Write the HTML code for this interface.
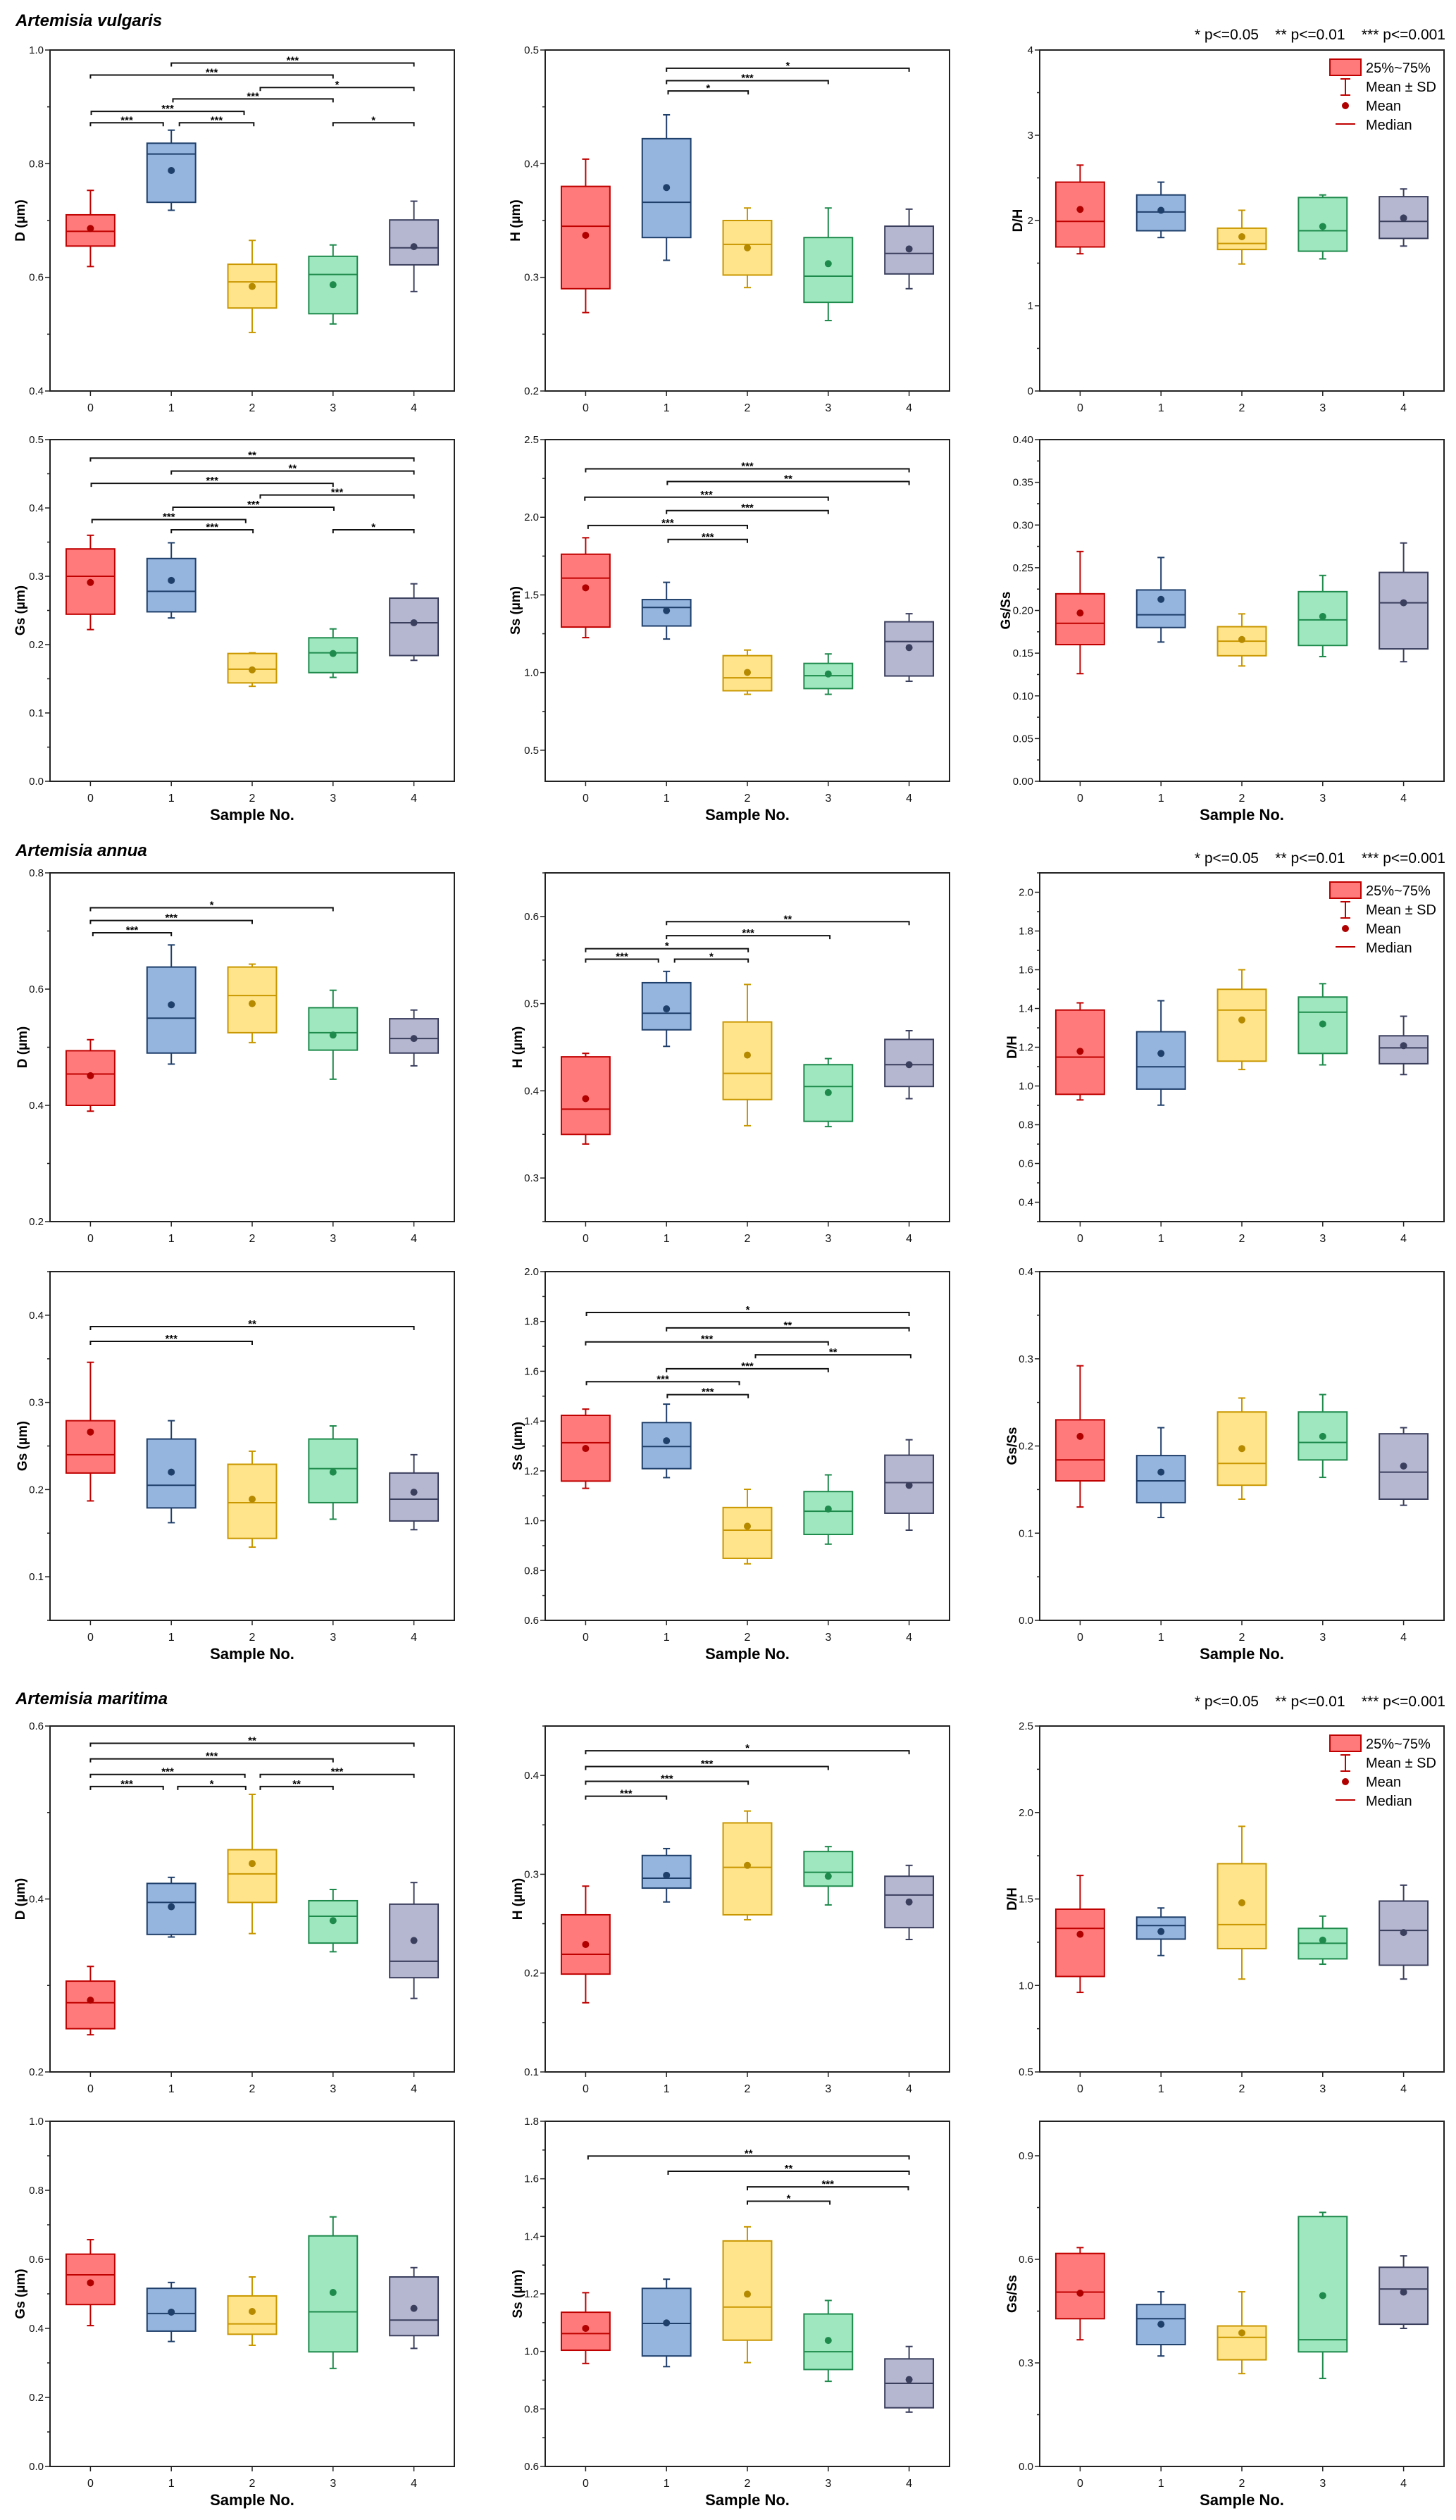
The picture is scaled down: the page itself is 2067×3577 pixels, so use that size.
<!DOCTYPE html>
<html><head><meta charset="utf-8"><title>Artemisia pollen morphometrics</title>
<style>
html,body{margin:0;padding:0;background:#fff;}
svg{display:block;font-family:"Liberation Sans",Arial,sans-serif;}
</style></head>
<body>
<svg id="fig" width="2067" height="3577" viewBox="0 0 2067 3577" xmlns="http://www.w3.org/2000/svg">
<rect width="2067" height="3577" fill="#fff"/>
<text x="22" y="37" font-size="24" font-weight="bold" font-style="italic">Artemisia vulgaris</text>
<text x="22" y="1215" font-size="24" font-weight="bold" font-style="italic">Artemisia annua</text>
<text x="22" y="2419" font-size="24" font-weight="bold" font-style="italic">Artemisia maritima</text>
<text x="2052" y="56" font-size="21" text-anchor="end" xml:space="preserve">* p&lt;=0.05    ** p&lt;=0.01    *** p&lt;=0.001</text>
<text x="2052" y="1225" font-size="21" text-anchor="end" xml:space="preserve">* p&lt;=0.05    ** p&lt;=0.01    *** p&lt;=0.001</text>
<text x="2052" y="2422" font-size="21" text-anchor="end" xml:space="preserve">* p&lt;=0.05    ** p&lt;=0.01    *** p&lt;=0.001</text>
</svg>
<script>
// ---------- data (groups 0..4) ----------
var categories=[0,1,2,3,4];
// vulgaris
var vD_q1=[0.655,0.732,0.546,0.536,0.622], vD_q3=[0.710,0.836,0.623,0.637,0.701], vD_med=[0.681,0.817,0.592,0.605,0.652], vD_mean=[0.686,0.788,0.584,0.587,0.654], vD_lo=[0.619,0.718,0.503,0.518,0.575], vD_hi=[0.753,0.859,0.665,0.657,0.734];
var vD_br=[[1,4,0.977,'***'],[0,3,0.956,'***'],[2.1,4,0.934,'*'],[1.02,3,0.914,'***'],[0.01,1.9,0.892,'***'],[0,0.9,0.872,'***'],[1.1,2.02,0.872,'***'],[3,4,0.872,'*']];
var vH_q1=[0.290,0.335,0.302,0.278,0.303], vH_q3=[0.380,0.422,0.350,0.335,0.345], vH_med=[0.345,0.366,0.329,0.301,0.321], vH_mean=[0.337,0.379,0.326,0.312,0.325], vH_lo=[0.269,0.315,0.291,0.262,0.290], vH_hi=[0.404,0.443,0.361,0.361,0.360];
var vH_br=[[1,4,0.484,'*'],[1,3,0.473,'***'],[1.02,2.01,0.464,'*']];
var vDH_q1=[1.69,1.88,1.66,1.64,1.79], vDH_q3=[2.45,2.30,1.91,2.27,2.28], vDH_med=[1.99,2.10,1.73,1.88,1.99], vDH_mean=[2.13,2.12,1.81,1.93,2.03], vDH_lo=[1.61,1.80,1.49,1.55,1.70], vDH_hi=[2.65,2.45,2.12,2.30,2.37];
var vDH_br=[];
var vGs_q1=[0.2445,0.248,0.144,0.159,0.184], vGs_q3=[0.340,0.326,0.187,0.210,0.268], vGs_med=[0.300,0.278,0.164,0.188,0.232], vGs_mean=[0.291,0.294,0.163,0.187,0.232], vGs_lo=[0.222,0.239,0.139,0.152,0.177], vGs_hi=[0.360,0.349,0.188,0.223,0.289];
var vGs_br=[[0,4,0.473,'**'],[1,4,0.454,'**'],[0.01,3,0.436,'***'],[2.1,4,0.419,'***'],[1.02,3.01,0.401,'***'],[0.02,1.92,0.383,'***'],[1,2.01,0.368,'***'],[3,4,0.368,'*']];
var vSs_q1=[1.293,1.300,0.883,0.897,0.978], vSs_q3=[1.762,1.470,1.109,1.059,1.327], vSs_med=[1.608,1.419,0.966,0.980,1.200], vSs_mean=[1.546,1.399,1.001,0.991,1.161], vSs_lo=[1.225,1.216,0.860,0.860,0.944], vSs_hi=[1.868,1.581,1.145,1.120,1.379];
var vSs_br=[[0,4,2.312,'***'],[1.01,4,2.230,'**'],[-0.01,3,2.129,'***'],[1,3,2.043,'***'],[0.03,2,1.947,'***'],[1.02,2,1.857,'***']];
var vGS_q1=[0.160,0.180,0.147,0.159,0.155], vGS_q3=[0.2195,0.224,0.181,0.222,0.2445], vGS_med=[0.185,0.195,0.164,0.189,0.209], vGS_mean=[0.197,0.213,0.166,0.193,0.209], vGS_lo=[0.126,0.163,0.135,0.146,0.140], vGS_hi=[0.269,0.262,0.196,0.241,0.279];
var vGS_br=[];
// annua
var aD_q1=[0.400,0.490,0.525,0.495,0.490], aD_q3=[0.494,0.638,0.638,0.568,0.549], aD_med=[0.454,0.550,0.589,0.525,0.515], aD_mean=[0.451,0.573,0.575,0.521,0.515], aD_lo=[0.390,0.471,0.508,0.445,0.468], aD_hi=[0.513,0.676,0.643,0.598,0.564];
var aD_br=[[0,3,0.740,'*'],[0,2,0.718,'***'],[0.03,1,0.697,'***']];
var aH_q1=[0.350,0.470,0.390,0.365,0.405], aH_q3=[0.439,0.524,0.479,0.430,0.459], aH_med=[0.379,0.489,0.420,0.405,0.430], aH_mean=[0.391,0.494,0.441,0.398,0.430], aH_lo=[0.339,0.451,0.360,0.359,0.391], aH_hi=[0.443,0.537,0.522,0.437,0.469];
var aH_br=[[1,4,0.594,'**'],[1,3.02,0.578,'***'],[0,2.01,0.563,'*'],[0,0.9,0.551,'***'],[1.1,2.01,0.551,'*']];
var aDH_q1=[0.957,0.984,1.128,1.168,1.115], aDH_q3=[1.392,1.280,1.499,1.459,1.259], aDH_med=[1.149,1.099,1.392,1.381,1.197], aDH_mean=[1.179,1.168,1.341,1.320,1.208], aDH_lo=[0.928,0.901,1.085,1.109,1.059], aDH_hi=[1.429,1.440,1.600,1.528,1.360];
var aDH_br=[];
var aGs_q1=[0.219,0.179,0.144,0.185,0.164], aGs_q3=[0.279,0.258,0.229,0.258,0.219], aGs_med=[0.240,0.205,0.185,0.224,0.189], aGs_mean=[0.266,0.220,0.189,0.220,0.197], aGs_lo=[0.187,0.162,0.134,0.166,0.154], aGs_hi=[0.346,0.279,0.244,0.273,0.240];
var aGs_br=[[0,4,0.387,'**'],[0,2,0.370,'***']];
var aSs_q1=[1.159,1.209,0.849,0.945,1.030], aSs_q3=[1.423,1.394,1.053,1.117,1.263], aSs_med=[1.313,1.298,0.962,1.038,1.153], aSs_mean=[1.290,1.321,0.978,1.047,1.142], aSs_lo=[1.130,1.173,0.827,0.906,0.962], aSs_hi=[1.448,1.468,1.126,1.184,1.325];
var aSs_br=[[0.01,4,1.836,'*'],[1,4,1.774,'**'],[0,3,1.718,'***'],[2.1,4.02,1.666,'**'],[1,3,1.610,'***'],[0.01,1.9,1.558,'***'],[1.01,2.01,1.506,'***']];
var aGS_q1=[0.160,0.135,0.155,0.184,0.139], aGS_q3=[0.230,0.189,0.239,0.239,0.214], aGS_med=[0.184,0.160,0.180,0.204,0.170], aGS_mean=[0.211,0.170,0.197,0.211,0.177], aGS_lo=[0.130,0.118,0.139,0.164,0.132], aGS_hi=[0.292,0.221,0.255,0.259,0.221];
var aGS_br=[];
// maritima
var mD_q1=[0.250,0.359,0.396,0.349,0.309], mD_q3=[0.305,0.418,0.457,0.398,0.394], mD_med=[0.280,0.396,0.429,0.380,0.328], mD_mean=[0.283,0.391,0.441,0.375,0.352], mD_lo=[0.243,0.356,0.360,0.339,0.285], mD_hi=[0.322,0.425,0.521,0.411,0.419];
var mD_br=[[0,4,0.580,'**'],[0,3,0.562,'***'],[0,1.91,0.544,'***'],[2.1,4,0.544,'***'],[0,0.9,0.530,'***'],[1.08,1.92,0.530,'*'],[2.1,3,0.530,'**']];
var mH_q1=[0.199,0.286,0.259,0.288,0.246], mH_q3=[0.259,0.319,0.352,0.323,0.298], mH_med=[0.219,0.296,0.307,0.302,0.279], mH_mean=[0.229,0.299,0.309,0.298,0.272], mH_lo=[0.170,0.272,0.254,0.269,0.234], mH_hi=[0.288,0.326,0.364,0.328,0.309];
var mH_br=[[0,4,0.425,'*'],[0,3,0.409,'***'],[0,2.01,0.394,'***'],[0,1,0.379,'***']];
var mDH_q1=[1.052,1.268,1.213,1.154,1.117], mDH_q3=[1.441,1.395,1.704,1.330,1.488], mDH_med=[1.330,1.346,1.352,1.244,1.318], mDH_mean=[1.296,1.312,1.478,1.262,1.306], mDH_lo=[0.960,1.173,1.037,1.123,1.037], mDH_hi=[1.636,1.448,1.920,1.401,1.580];
var mDH_br=[];
var mGs_q1=[0.469,0.392,0.383,0.332,0.379], mGs_q3=[0.615,0.516,0.494,0.668,0.549], mGs_med=[0.555,0.443,0.413,0.448,0.424], mGs_mean=[0.532,0.447,0.449,0.504,0.458], mGs_lo=[0.408,0.362,0.351,0.284,0.342], mGs_hi=[0.657,0.533,0.549,0.723,0.576];
var mGs_br=[];
var mSs_q1=[1.004,0.984,1.039,0.937,0.804], mSs_q3=[1.136,1.219,1.384,1.130,0.974], mSs_med=[1.062,1.097,1.154,0.999,0.889], mSs_mean=[1.080,1.099,1.199,1.038,0.902], mSs_lo=[0.958,0.947,0.961,0.896,0.789], mSs_hi=[1.204,1.251,1.433,1.177,1.017];
var mSs_br=[[0.03,4,1.679,'**'],[1.02,4,1.626,'**'],[2,3.99,1.572,'***'],[2,3.02,1.522,'*']];
var mGS_q1=[0.428,0.353,0.309,0.332,0.412], mGS_q3=[0.617,0.469,0.407,0.724,0.577], mGS_med=[0.505,0.428,0.374,0.367,0.514], mGS_mean=[0.502,0.412,0.387,0.495,0.505], mGS_lo=[0.367,0.320,0.269,0.255,0.400], mGS_hi=[0.634,0.506,0.506,0.736,0.610];
var mGS_br=[];

// ---------- layout ----------
var colX=[[71,645],[774,1348],[1476,2050]];
var rowY=[[71,555],[624,1109],[1239,1734],[1805,2300],[2450,2941],[3011,3501]];
var fills=['#ff7b7b','#95b5df','#ffe48b','#9fe8bf','#b5b6cf'];
var strokes=['#c00000','#1f3f6b','#c99700','#1e8a4c','#3b3f5e'];
var dots=['#b00000','#1f3f6b','#b58900','#1e8a4c','#3b3f5e'];
var panels=[
 {k:'vD',c:0,r:0,min:0.4,max:1.0,maj:0.2,mn:0.1,dec:1,t:'D (µm)',to:43},
 {k:'vH',c:1,r:0,min:0.2,max:0.5,maj:0.1,mn:0.05,dec:1,t:'H (µm)',to:43},
 {k:'vDH',c:2,r:0,min:0,max:4,maj:1,mn:0.5,dec:0,t:'D/H',to:32,leg:1},
 {k:'vGs',c:0,r:1,min:0,max:0.5,maj:0.1,mn:0.05,dec:1,t:'Gs (µm)',to:43,xl:1},
 {k:'vSs',c:1,r:1,min:0.3,max:2.5,maj:0.5,mn:0.25,dec:1,t:'Ss (µm)',to:43,xl:1},
 {k:'vGS',c:2,r:1,min:0,max:0.4,maj:0.05,mn:0.025,dec:2,t:'Gs/Ss',to:49,xl:1},
 {k:'aD',c:0,r:2,min:0.2,max:0.8,maj:0.2,mn:0.1,dec:1,t:'D (µm)',to:40},
 {k:'aH',c:1,r:2,min:0.25,max:0.65,maj:0.1,mn:0.05,dec:1,t:'H (µm)',to:40},
 {k:'aDH',c:2,r:2,min:0.3,max:2.1,maj:0.2,mn:0.1,dec:1,t:'D/H',to:40,leg:1},
 {k:'aGs',c:0,r:3,min:0.05,max:0.45,maj:0.1,mn:0.05,dec:1,t:'Gs (µm)',to:40,xl:1},
 {k:'aSs',c:1,r:3,min:0.6,max:2.0,maj:0.2,mn:0.1,dec:1,t:'Ss (µm)',to:40,xl:1},
 {k:'aGS',c:2,r:3,min:0,max:0.4,maj:0.1,mn:0.05,dec:1,t:'Gs/Ss',to:40,xl:1},
 {k:'mD',c:0,r:4,min:0.2,max:0.6,maj:0.2,mn:0.1,dec:1,t:'D (µm)',to:43},
 {k:'mH',c:1,r:4,min:0.1,max:0.45,maj:0.1,mn:0.05,dec:1,t:'H (µm)',to:40},
 {k:'mDH',c:2,r:4,min:0.5,max:2.5,maj:0.5,mn:0.25,dec:1,t:'D/H',to:40,leg:1},
 {k:'mGs',c:0,r:5,min:0,max:1.0,maj:0.2,mn:0.1,dec:1,t:'Gs (µm)',to:43,xl:1},
 {k:'mSs',c:1,r:5,min:0.6,max:1.8,maj:0.2,mn:0.1,dec:1,t:'Ss (µm)',to:40,xl:1},
 {k:'mGS',c:2,r:5,min:0,max:1.0,maj:0.3,mn:0.15,dec:1,t:'Gs/Ss',to:40,xl:1}
];

var NS='http://www.w3.org/2000/svg';
var svg=document.getElementById('fig');
function el(tag,attrs,parent){var e=document.createElementNS(NS,tag);for(var a in attrs)e.setAttribute(a,attrs[a]);(parent||svg).appendChild(e);return e;}

panels.forEach(function(p){
  var x0=colX[p.c][0],x1=colX[p.c][1],y0=rowY[p.r][0],y1=rowY[p.r][1];
  var q1=window[p.k+'_q1'],q3=window[p.k+'_q3'],med=window[p.k+'_med'],mean=window[p.k+'_mean'],lo=window[p.k+'_lo'],hi=window[p.k+'_hi'],br=window[p.k+'_br'];
  function X(v){return x0+(v+0.5)/5*(x1-x0);}
  function Y(v){return y1-(v-p.min)/(p.max-p.min)*(y1-y0);}
  var g=el('g',{});
  
  
  // y ticks
  var eps=1e-9;
  var mnStart=Math.ceil((p.min-eps)/p.mn)*p.mn;
  for(var v=mnStart;v<=p.max+eps;v+=p.mn){
    var yy=Y(v);
    var isMaj=Math.abs(v/p.maj-Math.round(v/p.maj))<1e-6;
    var t=el('line',{x1:x0,x2:x0-(isMaj?7:4),y1:yy,y2:yy,stroke:'#222','stroke-width':1.5},g);
    
    
    if(isMaj){
      var tl=el('text',{x:x0-9,y:yy+5,'font-size':15,'text-anchor':'end',fill:'#111'},g);
      tl.textContent=(Math.round(v/p.maj)*p.maj).toFixed(p.dec);
      
      
    }
  }
  // x ticks
  categories.forEach(function(c){
    var xt=el('line',{x1:X(c),x2:X(c),y1:y1,y2:y1+7,stroke:'#222','stroke-width':1.5},g);
    
    
    var xl=el('text',{x:X(c),y:y1+29,'font-size':16,'text-anchor':'middle',fill:'#111'},g);
    xl.textContent=String(c);
    
    
  });
  // axis title
  var at=el('text',{x:x0-p.to,y:(y0+y1)/2,'font-size':19,'font-weight':'bold','text-anchor':'middle',transform:'rotate(-90 '+(x0-p.to)+' '+((y0+y1)/2)+')',dy:7},g);
  at.textContent=p.t;
  
  
  if(p.xl){
    var xt2=el('text',{x:(x0+x1)/2,y:y1+55,'font-size':22,'font-weight':'bold','text-anchor':'middle'},g);
    xt2.textContent='Sample No.';
    
    
  }
  // boxes
  var bw=0.3;
  categories.forEach(function(c,i){
    var bg=el('g',{},g);
    
    
    var cx=X(c),half=(X(bw)-X(0));
    var w1=el('line',{x1:cx,x2:cx,y1:Y(hi[i]),y2:Y(q3[i]),stroke:strokes[i],'stroke-width':2},bg);
    
    
    var w2=el('line',{x1:cx,x2:cx,y1:Y(q1[i]),y2:Y(lo[i]),stroke:strokes[i],'stroke-width':2},bg);
    
    
    var c1=el('line',{x1:cx-5,x2:cx+5,y1:Y(hi[i]),y2:Y(hi[i]),stroke:strokes[i],'stroke-width':2},bg);
    
    
    var c2=el('line',{x1:cx-5,x2:cx+5,y1:Y(lo[i]),y2:Y(lo[i]),stroke:strokes[i],'stroke-width':2},bg);
    
    
    var bx=el('rect',{x:cx-half,y:Y(q3[i]),width:2*half,height:Y(q1[i])-Y(q3[i]),fill:fills[i],stroke:strokes[i],'stroke-width':2},bg);
    
    
    var md=el('line',{x1:cx-half,x2:cx+half,y1:Y(med[i]),y2:Y(med[i]),stroke:strokes[i],'stroke-width':2},bg);
    
    
    var dt=el('circle',{cx:cx,cy:Y(mean[i]),r:5,fill:dots[i]},bg);
    
    
  });
  // brackets
  br.forEach(function(b){
    var bgp=el('g',{},g);
    
    
    var ya=Y(b[2]),xa=X(b[0]),xb=X(b[1]);
    var pl=el('path',{d:'M'+xa+' '+(ya+5)+'V'+ya+'H'+xb+'V'+(ya+5),fill:'none',stroke:'#111','stroke-width':2},bgp);
    
    
    var lb=el('text',{x:(xa+xb)/2,y:ya+1,'font-size':15,'font-weight':'bold','text-anchor':'middle'},bgp);
    lb.textContent=b[3];
    
    
  });
  // frame
  var fr=el('rect',{x:x0,y:y0,width:x1-x0,height:y1-y0,fill:'none',stroke:'#222','stroke-width':2},g);
  
  
  // legend
  if(p.leg){
    var lg=el('g',{},g);
    
    
    var lx=x1-162,ly=y0+13;
    var r1=el('rect',{x:lx,y:ly,width:44,height:23,fill:'#ff7b7b',stroke:'#c00000','stroke-width':2},lg);
    
    
    var e1=el('path',{d:'M'+(lx+15)+' '+(ly+28)+'H'+(lx+29)+'M'+(lx+22)+' '+(ly+28)+'V'+(ly+51)+'M'+(lx+15)+' '+(ly+51)+'H'+(lx+29),stroke:'#c00000','stroke-width':2,fill:'none'},lg);
    
    
    var d1=el('circle',{cx:lx+22,cy:ly+66,r:5,fill:'#b00000'},lg);
    
    
    var m1=el('line',{x1:lx+8,x2:lx+36,y1:ly+92,y2:ly+92,stroke:'#c00000','stroke-width':2},lg);
    
    
    ['25%~75%','Mean ± SD','Mean','Median'].forEach(function(s,j){
      var lt=el('text',{x:lx+51,y:ly+19+j*27,'font-size':20},lg);
      lt.textContent=s;
      
      
    });
  }
});
</script>
</body></html>
